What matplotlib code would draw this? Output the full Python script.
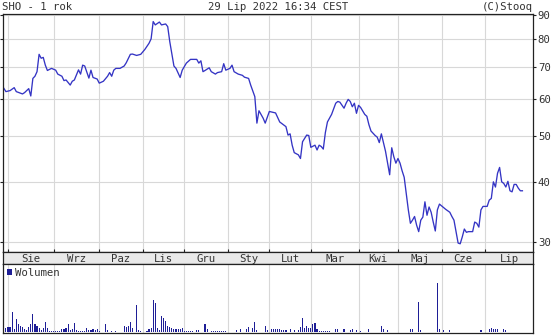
import matplotlib
matplotlib.use("Agg")
import matplotlib.pyplot as plt
import matplotlib.transforms as mtransforms
from matplotlib.patches import Patch
from matplotlib.ticker import FixedLocator, NullLocator, NullFormatter, FixedFormatter
import pandas as pd

# ---------------- data ----------------
title_left = "SHO - 1 rok"
title_mid = "29 Lip 2022 16:34 CEST"
title_right = "(C)Stooq"
volume_label = "Wolumen"

start_date = "2021-07-29"
end_date = "2022-07-29"
holidays = ["2021-11-01", "2021-11-11", "2021-12-24", "2021-12-31", "2022-01-06",
            "2022-04-15", "2022-04-18", "2022-05-03", "2022-06-16"]
month_names = ["Sty", "Lut", "Mar", "Kwi", "Maj", "Cze", "Lip", "Sie", "Wrz", "Paz", "Lis", "Gru"]
price_ticks = [30, 40, 50, 60, 70, 80, 90]

# trading-day index -> closing price
price_day = [0, 1, 3, 5, 6, 9, 10, 12, 13, 14, 15, 16, 17, 18, 19, 20, 21, 23, 25, 26,
             28, 29, 30, 32, 33, 34, 36, 37, 38, 39, 41, 42, 43, 45, 46, 48, 50, 51, 52, 53,
             54, 56, 58, 59, 61, 62, 64, 66, 68, 70, 71, 72, 73, 75, 76, 78, 79, 80, 82, 83,
             85, 86, 88, 90, 91, 93, 94, 95, 96, 97, 99, 100, 102, 103, 105, 106, 107, 109, 110, 111,
             113, 115, 116, 118, 119, 121, 122, 123, 125, 126, 128, 131, 133, 136, 137, 138, 139, 140, 142, 143,
             144, 146, 147, 148, 150, 151, 152, 153, 154, 155, 156, 158, 160, 161, 162, 164, 165, 166, 167, 168,
             169, 170, 171, 172, 174, 175, 176, 177, 179, 180, 181, 182, 183, 184, 186, 187, 188, 189, 190, 191,
             192, 193, 194, 195, 196, 197, 198, 199, 200, 201, 202, 203, 204, 205, 206, 207, 208, 209, 210, 212,
             213, 215, 216, 217, 218, 219, 220, 221, 222, 223, 224, 226, 227, 228, 229, 230, 231, 233, 234, 235,
             236, 237, 238, 239, 240, 241, 242, 243, 244, 245, 246, 247, 248, 249, 250]
price_val = [63.1, 62.1, 62.4, 63.3, 62.1, 61.4, 61.8, 63.0, 60.8, 66.2, 66.9, 68.4, 74.4, 73.0, 73.3, 70.6, 68.8, 69.5, 68.9, 67.6,
             66.9, 65.5, 65.7, 64.1, 65.3, 65.7, 69.0, 67.6, 70.6, 70.3, 66.3, 68.9, 66.5, 66.0, 64.7, 65.3, 66.9, 68.1, 66.9, 68.9,
             69.5, 69.5, 70.3, 71.4, 74.4, 74.5, 74.0, 74.4, 76.2, 78.5, 80.2, 87.2, 85.8, 87.0, 85.8, 86.2, 85.1, 79.1, 70.3, 69.5,
             66.5, 68.9, 71.3, 72.6, 72.6, 72.6, 71.3, 72.1, 68.4, 68.8, 69.7, 68.4, 67.6, 68.1, 68.4, 71.1, 68.9, 69.5, 70.6, 68.4,
             67.6, 67.2, 66.6, 66.2, 64.1, 60.6, 53.3, 56.6, 54.6, 53.3, 56.4, 56.0, 53.6, 52.4, 50.3, 50.6, 47.9, 46.2, 45.7, 44.9,
             48.7, 50.3, 50.2, 47.4, 47.9, 46.8, 47.9, 47.6, 47.0, 50.9, 53.6, 55.6, 58.7, 59.2, 59.0, 57.3, 58.7, 59.8, 59.2, 57.7,
             58.7, 55.9, 58.1, 57.5, 55.6, 55.1, 52.9, 51.3, 50.2, 49.8, 48.5, 50.6, 48.5, 46.5, 41.5, 47.3, 45.3, 43.9, 44.9, 43.9,
             42.3, 41.0, 37.9, 35.0, 32.8, 33.3, 33.9, 32.5, 31.5, 33.3, 33.8, 36.4, 34.1, 35.5, 34.6, 33.0, 31.6, 35.0, 36.0, 35.4,
             35.1, 34.6, 33.9, 33.3, 31.5, 29.8, 29.7, 30.7, 31.9, 31.4, 31.5, 31.5, 33.0, 32.8, 32.2, 35.0, 35.6, 35.6, 36.7, 37.0,
             40.1, 39.1, 41.8, 43.0, 40.1, 39.8, 39.1, 40.2, 38.4, 38.2, 39.6, 39.6, 38.9, 38.4, 38.4]

# trading-day index -> volume (thousands)
volume_day = [0, 1, 2, 3, 4, 5, 6, 7, 8, 9, 10, 11, 12, 13, 14, 15, 16, 17, 18, 19,
              20, 21, 22, 23, 24, 25, 26, 27, 28, 29, 30, 31, 32, 33, 34, 35, 36, 37, 38, 39,
              40, 41, 42, 43, 44, 45, 46, 49, 50, 52, 54, 58, 59, 60, 61, 62, 64, 65, 66, 69,
              70, 71, 72, 73, 74, 75, 76, 77, 78, 79, 80, 81, 82, 83, 84, 85, 86, 87, 88, 89,
              90, 91, 93, 94, 97, 98, 100, 101, 102, 103, 104, 105, 106, 107, 112, 114, 117, 118, 120, 121,
              122, 126, 127, 129, 130, 131, 132, 133, 134, 135, 136, 138, 140, 142, 143, 144, 145, 146, 147, 148,
              149, 150, 151, 152, 153, 154, 155, 156, 157, 160, 161, 164, 167, 168, 170, 172, 176, 182, 183, 185,
              196, 197, 200, 201, 209, 210, 212, 215, 230, 234, 235, 236, 237, 238, 241, 242]
volume_val = [2.7, 3.7, 4.7, 4.7, 20.3, 2.7, 12.7, 8.0, 6.0, 4.7, 2.7, 2.0, 5.0, 8.0, 18.0, 7.7, 5.7, 4.0, 2.0, 4.0,
              10.3, 4.0, 1.5, 1.0, 1.0, 1.0, 1.0, 1.0, 2.7, 2.7, 4.0, 7.7, 2.0, 2.7, 8.7, 2.0, 1.0, 1.0, 1.0, 1.0,
              4.0, 2.0, 2.0, 2.7, 2.0, 2.7, 1.0, 7.7, 2.0, 1.0, 1.0, 5.7, 4.7, 6.0, 10.0, 4.0, 27.0, 2.0, 1.0, 1.0,
              2.7, 4.0, 32.0, 29.3, 4.0, 2.0, 15.7, 14.0, 10.7, 6.0, 4.7, 4.0, 2.7, 2.7, 2.7, 2.7, 4.0, 1.0, 1.0, 1.0,
              1.0, 1.0, 2.0, 2.0, 7.7, 2.7, 1.0, 1.0, 1.0, 1.0, 1.0, 1.0, 1.0, 1.0, 2.0, 2.7, 2.7, 4.7, 4.0, 10.3,
              2.0, 5.7, 2.0, 2.7, 2.7, 2.7, 2.7, 2.7, 2.0, 2.0, 2.0, 2.7, 2.0, 2.0, 4.7, 13.7, 3.7, 5.7, 3.7, 3.7,
              7.7, 8.7, 2.7, 1.0, 1.0, 1.0, 1.0, 1.0, 1.0, 2.7, 2.7, 2.7, 2.0, 3.3, 2.0, 1.0, 2.7, 5.7, 2.7, 2.0,
              2.7, 2.7, 30.3, 2.0, 49.3, 2.7, 2.0, 2.0, 2.0, 2.7, 3.7, 2.7, 2.7, 2.7, 2.7, 2.0]

# ---------------- style ----------------
plt.rcParams["font.family"] = ["DejaVu Sans Mono"]
FS = 7.7
LINE_C = "#3434c4"
VOL_C = "#1e1e96"
GRID_C = "#d8d8d8"
FRAME_C = "#222222"
TEXT_C = "#333333"

W, H = 553, 335
fig = plt.figure(figsize=(W / 100, H / 100), dpi=100)
fig.patch.set_facecolor("white")

def fr(x0, y_top, x1, y_bot):
    return [x0 / W, 1 - y_bot / H, (x1 - x0) / W, (y_bot - y_top) / H]

XL = (-0.4, 255.1)

# trading calendar -> month boundaries
dates = pd.bdate_range(start_date, end_date, freq="C", holidays=holidays)
bounds = [i for i in range(1, len(dates)) if dates[i].month != dates[i - 1].month]
bound_months = [dates[i].month for i in bounds]
edges = bounds + [XL[1]]
centers = [(edges[k] + edges[k + 1]) / 2 for k in range(len(bounds))]
labels = [month_names[m - 1] for m in bound_months]

# ---- main price axes ----
ax = fig.add_axes(fr(3, 14, 533, 252))
ax.plot(price_day, price_val, color=LINE_C, lw=0.95, solid_joinstyle="round")
ax.set_yscale("log")
ax.set_ylim(28.54, 90.46)
ax.set_xlim(*XL)
ax.yaxis.set_major_locator(FixedLocator(price_ticks))
ax.yaxis.set_major_formatter(FixedFormatter([str(t) for t in price_ticks]))
ax.yaxis.set_minor_locator(NullLocator())
ax.yaxis.set_minor_formatter(NullFormatter())
ax.tick_params(axis="y", which="major", left=True, right=True, labelleft=False, labelright=True,
               direction="out", length=2.3, width=0.8, pad=1.2, labelsize=FS, labelcolor=TEXT_C, color=FRAME_C)
ax.xaxis.set_major_locator(FixedLocator(bounds))
ax.tick_params(axis="x", which="both", length=0, labelbottom=False)
ax.grid(True, color=GRID_C, lw=0.8)
ax.set_axisbelow(True)
for s in ax.spines.values():
    s.set_color(FRAME_C)
    s.set_linewidth(0.9)

# ---- month band ----
bax = fig.add_axes(fr(3, 252, 533, 264))
bax.set_facecolor("#e9e9e9")
bax.set_xlim(*XL)
bax.set_ylim(0, 1)
bax.set_yticks([])
bax.xaxis.set_major_locator(FixedLocator(bounds))
bax.tick_params(axis="x", which="major", top=True, bottom=True, direction="out",
                length=2.5, width=0.8, color=FRAME_C, labelbottom=False)
for c, lab in zip(centers, labels):
    bax.text(c, 0.45, lab, ha="center", va="center", fontsize=FS, color=TEXT_C)
for s in bax.spines.values():
    s.set_color(FRAME_C)
    s.set_linewidth(0.9)

# ---- volume ----
vax = fig.add_axes(fr(3, 264, 533, 333))
vax.bar(volume_day, volume_val, width=0.55, color=VOL_C, linewidth=0)
vax.set_xlim(*XL)
vax.set_ylim(-1, 68)
vax.set_yticks([])
vax.xaxis.set_major_locator(FixedLocator(bounds))
vax.tick_params(axis="x", which="both", length=0, labelbottom=False)
vax.grid(True, axis="x", color=GRID_C, lw=0.8)
vax.set_axisbelow(True)
for s in vax.spines.values():
    s.set_color(FRAME_C)
    s.set_linewidth(0.9)
vax.legend(handles=[Patch(facecolor=VOL_C, edgecolor="none", label=volume_label)],
           loc="upper left", bbox_to_anchor=(0.0, 1.0), frameon=False, fontsize=FS,
           handlelength=0.45, handleheight=0.55, handletextpad=0.35, borderaxespad=0.0,
           borderpad=0.35, labelcolor=TEXT_C)

# ---- header ----
fig.text(2 / W, 1 - 6.5 / H, title_left, ha="left", va="center", fontsize=FS, color=TEXT_C)
fig.text(278.5 / W, 1 - 6.5 / H, title_mid, ha="center", va="center", fontsize=FS, color=TEXT_C)
fig.text(533 / W, 1 - 6.5 / H, title_right, ha="right", va="center", fontsize=FS, color=TEXT_C)

fig.savefig("out.png", dpi=100, facecolor="white")
